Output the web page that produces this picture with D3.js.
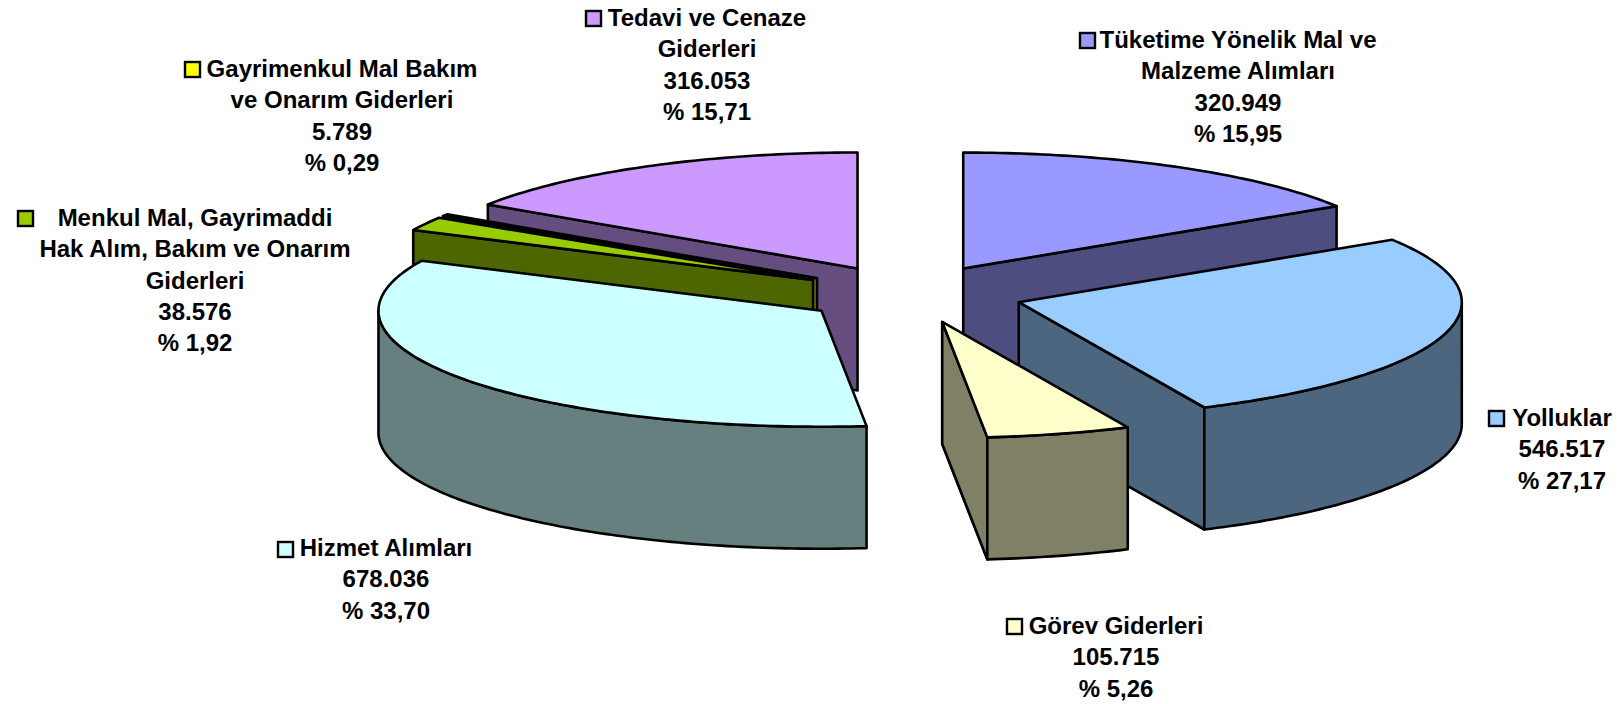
<!DOCTYPE html>
<html><head><meta charset="utf-8">
<script src="https://cdn.jsdelivr.net/npm/d3@7"></script>
<style>html,body{margin:0;padding:0;background:#fff;overflow:hidden}svg{display:block}
text{font-family:"Liberation Sans",Arial,sans-serif;font-weight:700;fill:#000;font-size:24px}</style>
</head><body><svg id="c" width="1623" height="704"></svg>
<script>
const categories=["Tüketime Yönelik Mal ve Malzeme Alımları","Yolluklar","Görev Giderleri","Hizmet Alımları","Menkul Mal, Gayrimaddi Hak Alım, Bakım ve Onarım Giderleri","Gayrimenkul Mal Bakım ve Onarım Giderleri","Tedavi ve Cenaze Giderleri"];
const values=[320949,546517,105715,678036,38576,5789,316053];
const valueLabels=["320.949","546.517","105.715","678.036","38.576","5.789","316.053"];
const percentLabels=["% 15,95","% 27,17","% 5,26","% 33,70","% 1,92","% 0,29","% 15,71"];
const topColors=["#9999FF","#99CCFF","#FFFFCC","#CCFFFF","#99CC00","#FFFF00","#CC99FF"];
const sideColors=["#4D4D80","#4D6680","#808066","#668080","#4D6600","#808000","#664D80"];
const labelLines=[["Tüketime Yönelik Mal ve","Malzeme Alımları"],["Yolluklar"],["Görev Giderleri"],["Hizmet Alımları"],["Menkul Mal, Gayrimaddi","Hak Alım, Bakım ve Onarım","Giderleri"],["Gayrimenkul Mal Bakım","ve Onarım Giderleri"],["Tedavi ve Cenaze","Giderleri"]];
const labelCenterX=[1238,1562,1116,386,195,342,707];
const labelTopBaseline=[48,426,634,556,226,77,26];
const keyPos=[[1079,32],[1488,410],[1006,618],[277,541],[17,210],[184,61],[585,10]];
const paintOrder=[6,5,4,3,0,1,2];
const frontNudge=[0,2.5,3,2,0,0,0];

const cx=910,cy=294,rx=443,ry=116,depth=122,explode=0.25,lh=31.3;
const sx=d3.scaleLinear().domain([0,1]).range([0,rx]);
const sy=d3.scaleLinear().domain([0,1]).range([0,ry]);
const arcs=d3.pie().sort(null)(values);
const svg=d3.select("#c");
const line=d3.line();
function pt(c,a,d=0){return [c[0]+sx(Math.sin(a)),c[1]-sy(Math.cos(a))+d];}
function samples(a0,a1){const n=Math.max(2,Math.ceil(Math.abs(a1-a0)*60));return d3.range(n+1).map(i=>a0+(a1-a0)*i/n);}
function center(s,i){const m=(s.startAngle+s.endAngle)/2;return [cx+frontNudge[i]+sx(explode*Math.sin(m)),cy-sy(explode*Math.cos(m))];}
const stroke=g=>g.attr("stroke","#000").attr("stroke-width",2.6).attr("stroke-linejoin","round");

paintOrder.forEach(i=>{
  const s=arcs[i],c=center(s,i),g=svg.append("g"),side=sideColors[i];
  const wall=(a)=>{const p=pt(c,a);return [c,p,[p[0],p[1]+depth],[c[0],c[1]+depth]];};
  const walls=[];
  if(s.endAngle<Math.PI) walls.push(s.endAngle);
  if(s.startAngle>=Math.PI) walls.push(s.startAngle);
  if(i===2) walls.push(s.endAngle);
  walls.forEach(a=>g.append("path").attr("d",line(wall(a))+"Z").attr("fill",side).call(stroke));
  const r0=Math.max(s.startAngle,Math.PI/2),r1=Math.min(s.endAngle,1.5*Math.PI);
  if(r1>r0){
    const as=samples(r0,r1);
    const up=as.map(a=>pt(c,a)),dn=as.map(a=>pt(c,a,depth)).reverse();
    g.append("path").attr("d",line(up.concat(dn))+"Z").attr("fill",side).call(stroke);
  }
  const top=[c].concat(samples(s.startAngle,s.endAngle).map(a=>pt(c,a)));
  g.append("path").attr("d",line(top)+"Z").attr("fill",topColors[i]).call(stroke);
});

categories.forEach((name,i)=>{
  const lines=labelLines[i].concat([valueLabels[i],percentLabels[i]]);
  const t=svg.append("text").attr("text-anchor","middle");
  lines.forEach((l,j)=>t.append("tspan").attr("x",labelCenterX[i]).attr("y",labelTopBaseline[i]+j*lh).text(l));
  svg.append("rect").attr("x",keyPos[i][0]+1).attr("y",keyPos[i][1]+1).attr("width",15).attr("height",15)
    .attr("fill",topColors[i]).attr("stroke","#000").attr("stroke-width",2.4);
});
</script></body></html>
